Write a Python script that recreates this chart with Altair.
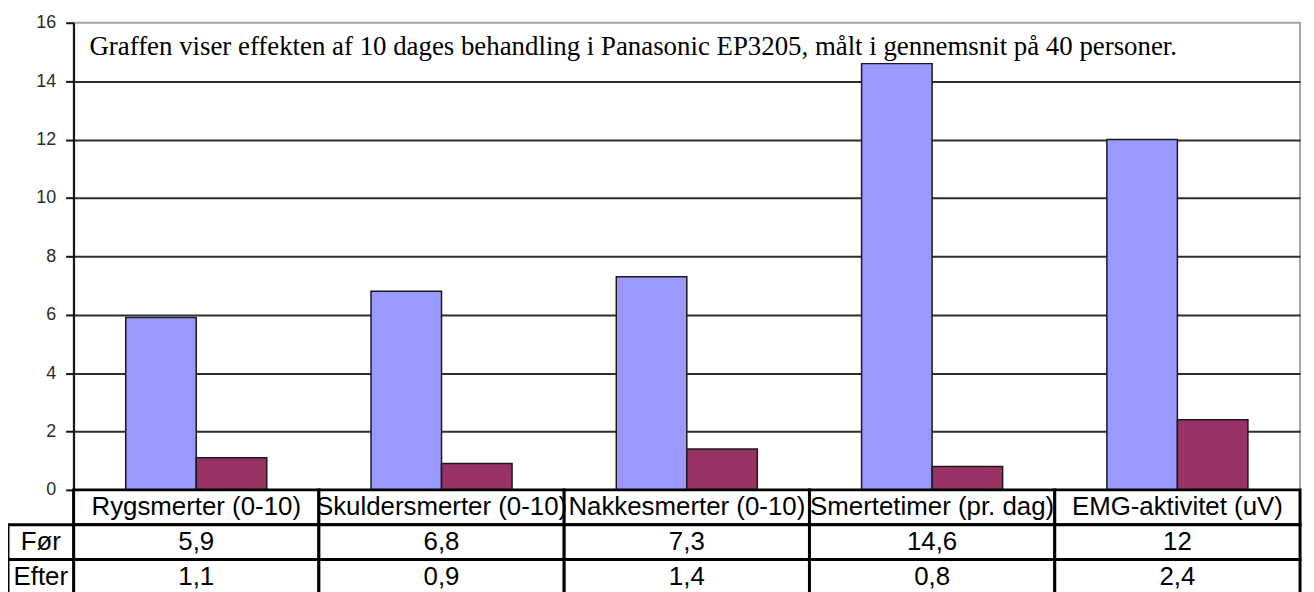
import altair as alt
import pandas as pd

# ---- data ----
cats = ["Rygsmerter (0-10)", "Skuldersmerter (0-10)", "Nakkesmerter (0-10)",
        "Smertetimer (pr. dag)", "EMG-aktivitet (uV)"]
series = ["Før", "Efter"]
foer = [5.9, 6.8, 7.3, 14.6, 12]
efter = [1.1, 0.9, 1.4, 0.8, 2.4]
yticks = [0, 2, 4, 6, 8, 10, 12, 14, 16]
note = ["Graffen viser effekten af 10 dages behandling i Panasonic EP3205, målt i gennemsnit på 40 personer."]
row_keys = ["kategori", "Før", "Efter"]
colors = ["#9999FF", "#993366"]

W, H = 1234, 470
ROW_H = 35


def fmt(v):
    return f"{v:g}".replace(".", ",")


bars = pd.DataFrame(
    [{"cat": c, "series": "Før", "value": v} for c, v in zip(cats, foer)]
    + [{"cat": c, "series": "Efter", "value": v} for c, v in zip(cats, efter)]
)

table = pd.DataFrame(
    [{"cat": c, "row": "kategori", "text": c} for c in cats]
    + [{"cat": c, "row": "Før", "text": fmt(v)} for c, v in zip(cats, foer)]
    + [{"cat": c, "row": "Efter", "text": fmt(v)} for c, v in zip(cats, efter)]
)
header = pd.DataFrame({"row": series, "text": series})
note_df = pd.DataFrame({"text": note})

sans = "Liberation Sans"
serif = "Liberation Serif"

bar_x = alt.X("cat:N", sort=cats,
              scale=alt.Scale(domain=cats, paddingInner=0.425, paddingOuter=0.2125),
              axis=None)
tbl_x = alt.X("cat:N", sort=cats,
              scale=alt.Scale(domain=cats, paddingInner=0, paddingOuter=0),
              axis=None)
tbl_y = alt.Y("row:N", sort=row_keys,
              scale=alt.Scale(domain=row_keys, range=[H, H + 3 * ROW_H],
                              paddingInner=0, paddingOuter=0),
              axis=None)

bar_layer = alt.Chart(bars).mark_bar(stroke="#1a1a1a", strokeWidth=1.5).encode(
    x=bar_x,
    xOffset=alt.XOffset("series:N", sort=series,
                        scale=alt.Scale(domain=series, paddingInner=0, paddingOuter=0)),
    y=alt.Y("value:Q",
            scale=alt.Scale(domain=[0, 16], nice=False, zero=True),
            axis=alt.Axis(values=yticks, title=None, format="d",
                          labelFont=sans, labelFontSize=18, labelColor="#2a2a2a",
                          labelPadding=10, tickSize=8, tickWidth=2, tickColor="#111",
                          domainColor="#111", domainWidth=2,
                          grid=True, gridColor="#2e2e2e", gridWidth=2,
                          gridOpacity={"condition": {"test": "datum.value === 16 || datum.value === 0",
                                                     "value": 0}, "value": 1})),
    color=alt.Color("series:N", sort=series,
                    scale=alt.Scale(domain=series, range=colors), legend=None),
)

note_layer = alt.Chart(note_df).mark_text(
    font=serif, fontSize=27, align="left", baseline="alphabetic", color="#000"
).encode(x=alt.value(16), y=alt.value(32), text="text:N")

cell_layer = alt.Chart(table).mark_rect(fill="white", stroke="#000", strokeWidth=3).encode(
    x=tbl_x, y=tbl_y
)
cell_text = alt.Chart(table).mark_text(font=sans, fontSize=26, color="#000",
                                       baseline="middle").encode(
    x=tbl_x, y=tbl_y, text="text:N"
)
head_layer = alt.Chart(header).mark_rect(fill="white", stroke="#000", strokeWidth=3).encode(
    x=alt.value(-66), x2=alt.value(0), y=tbl_y
)
head_text = alt.Chart(header).mark_text(font=sans, fontSize=26, color="#000",
                                        baseline="middle").encode(
    x=alt.value(-33), y=tbl_y, text="text:N"
)

chart = alt.layer(
    bar_layer, note_layer, cell_layer, cell_text, head_layer, head_text
).resolve_scale(
    x="independent", y="independent"
).properties(
    width=W, height=H,
    autosize="none",
    padding={"left": 66, "top": 13, "right": 6, "bottom": 114},
    background="white",
).configure_view(
    stroke="#a6a6a6", strokeWidth=2
)

chart.save("out.html", embed_options={"renderer": "svg", "actions": False})
